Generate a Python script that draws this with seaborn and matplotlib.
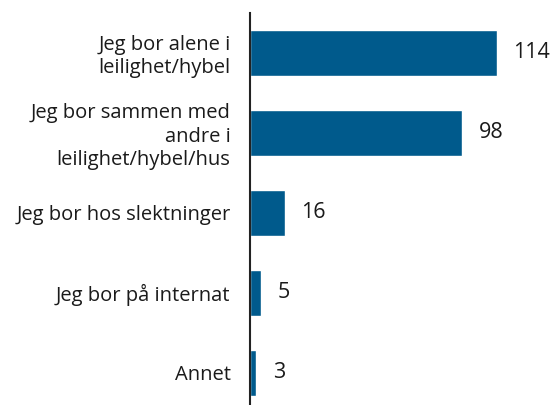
import pandas as pd
import seaborn as sns
import matplotlib.pyplot as plt

# Data
categories = ['Jeg bor alene i\nleilighet/hybel',
              'Jeg bor sammen med\nandre i\nleilighet/hybel/hus',
              'Jeg bor hos slektninger',
              'Jeg bor på internat',
              'Annet']
counts = [114, 98, 16, 5, 3]

df = pd.DataFrame({'kategori': categories, 'antall': counts})

sns.set_theme(style='white')
plt.rcParams['font.family'] = ['Open Sans', 'DejaVu Sans']

fig = plt.figure(figsize=(5.54, 4.05), dpi=100)
ax = fig.add_axes([250 / 554, -7.5 / 405, 303 / 554, 400 / 405])

sns.barplot(data=df, x='antall', y='kategori', color='#005a8c',
            saturation=1, width=0.575, ax=ax)

ax.bar_label(ax.containers[0], padding=12, fontsize=15.5, color='#1a1a1a')

ax.set_xlim(0, 140)
ax.set_ylim(4.5, -0.5)
ax.set_xlabel('')
ax.set_ylabel('')
ax.set_xticks([])
ax.tick_params(axis='y', length=0, pad=14, labelsize=14.5, labelcolor='#1a1a1a')
for lbl in ax.get_yticklabels():
    lbl.set_linespacing(1.22)

for s in ['top', 'right', 'bottom']:
    ax.spines[s].set_visible(False)
ax.spines['left'].set_color('#222222')
ax.spines['left'].set_linewidth(1.5)

fig.savefig('out.png', dpi=100)
